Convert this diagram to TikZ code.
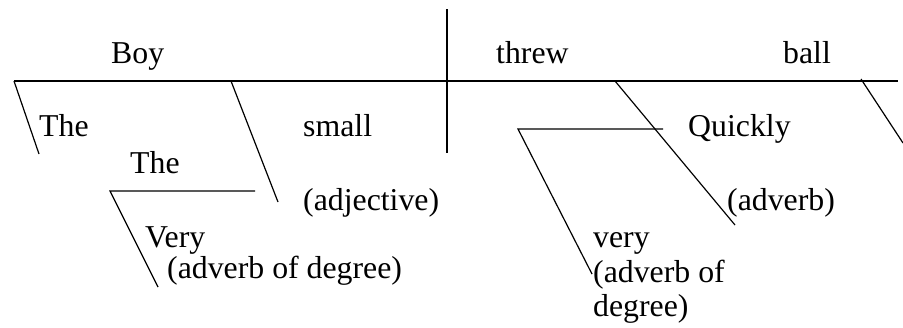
\documentclass[tikz,border=0pt]{standalone}
\usepackage{fontspec}
\setmainfont{Liberation Serif}
\begin{document}
\begin{tikzpicture}[x=1pt,y=-1pt,
  word/.style={inner sep=0pt,anchor=base west,font=\fontsize{31.8}{36}\selectfont},
  rule/.style={line width=1.2pt,line cap=butt}]
\useasboundingbox (0,0) rectangle (903,327);
% coordinates of line ends
\coordinate (mainL) at (14,81);
\coordinate (mainR) at (898,81);
\coordinate (vtop) at (447,9);
\coordinate (vbot) at (447,153);
\coordinate (the1b) at (39,154);
\coordinate (smallT) at (231,81);
\coordinate (smallB) at (278,202);
\coordinate (the2L) at (110,191);
\coordinate (the2R) at (255,191);
\coordinate (veryB) at (158,287);
\coordinate (qT) at (615,81);
\coordinate (qB) at (735,225);
\coordinate (v2L) at (518,129);
\coordinate (v2R) at (663,129);
\coordinate (v2B) at (592,274);
\coordinate (ballT) at (861,79);
\coordinate (ballB) at (903,143);
% lines
\draw[rule] (mainL) -- (mainR);
\draw[rule] (vtop) -- (vbot);
\draw[rule] (mainL) -- (the1b);
\draw[rule] (smallT) -- (smallB);
\draw[rule] (the2R) -- (the2L) -- (veryB);
\draw[rule] (qT) -- (qB);
\draw[rule] (v2R) -- (v2L) -- (v2B);
\draw[rule] (ballT) -- (ballB);
% words
\node[word] (boy) at (111,63) {Boy};
\node[word] (threw) at (496,63) {threw};
\node[word] (ball) at (783,63) {ball};
\node[word] (the1) at (39,136) {The};
\node[word] (small) at (303,136) {small};
\node[word] (adj) at (303,210) {(adjective)};
\node[word] (the2) at (130,173) {The};
\node[word] (very1) at (145,247) {Very};
\node[word] (adv1) at (167,278) {(adverb of degree)};
\node[word] (quickly) at (688,136) {Quickly};
\node[word] (adverb) at (727,210) {(adverb)};
\node[word] (very2) at (593,247) {very};
\node[word] (adv2a) at (593,282) {(adverb of};
\node[word] (adv2b) at (593,316) {degree)};
\end{tikzpicture}
\end{document}
